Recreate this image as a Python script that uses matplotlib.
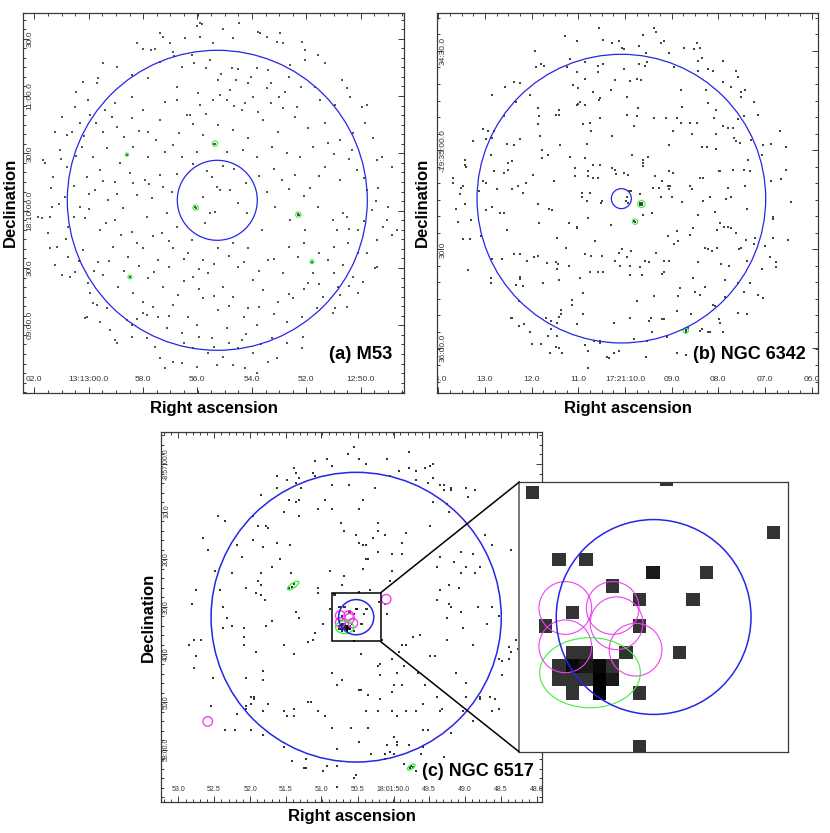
import numpy as np
import matplotlib
matplotlib.use("Agg")
import matplotlib.pyplot as plt
from matplotlib.colors import ListedColormap
from matplotlib.patches import Circle, Ellipse, Rectangle, ConnectionPatch

plt.rcParams['font.family'] = ['Liberation Sans', 'DejaVu Sans']

# all positions below are image coordinates of the three frames

# M53 events
m53_events = [(600,68),(590,78),(718,68),(670,88),(775,95),(780,100),(480,100),(510,130),(465,148),(430,148),(410,128),(555,115),(600,110),(640,130),(830,125),(848,130),(800,110),(700,115),(520,155),(575,165),(480,185),(545,200),(630,180),(695,205),(715,208),(770,205),(915,150),(955,165),(915,180),(975,190),(870,195),(805,210),(350,200),(310,190),(395,225),(295,235),(250,245),(228,275),(290,250),(655,240),(445,235),(530,260),(595,280),(660,285),(690,270),(745,250),(800,265),(855,275),(945,260),(1025,240),(1050,290),(1085,320),(1100,315),(960,300),(890,320),(850,325),(775,335),(735,310),(725,330),(680,300),(640,300),(600,315),(560,345),(530,300),(495,305),(430,330),(395,290),(345,310),(315,330),(265,300),(225,320),(185,350),(215,395),(165,395),(135,488),(125,653),(145,700),(165,795),(185,825),(210,830),(255,955),(290,915),(345,1020),(350,1030),(430,940),(440,945),(380,960),(395,975),(480,1075),(495,1105),(520,1085),(545,1090),(590,1100),(650,1095),(700,1095),(735,1105),(770,1120),(805,1085),(830,1075),(860,1030),(905,1045),(910,1010),(1000,940),(1040,920),(1075,880),(1130,800),(1175,705),(1190,690),(1100,760),(1095,370),(1060,400),(1120,415),(1145,470),(1135,565),(1165,620),(1160,660),(1040,650),(1030,640),(1010,690),
(240,370),(270,345),(310,395),(350,380),(395,355),(445,395),(480,360),(520,435),(570,345),(610,405),(655,375),(700,390),(745,415),(790,360),(835,395),(885,350),(925,385),(975,370),(1020,420),(1055,450),(985,430),(940,440),(900,470),(860,460),(815,440),(770,470),(730,450),(680,455),(590,455),(545,470),(495,455),(445,470),(400,440),(360,490),(320,445),(280,470),(245,440),(200,500),(160,530),(260,530),(300,510),(345,545),(390,520),(435,540),(480,525),(515,575),(500,640),(455,595),(410,585),(370,625),(325,600),(285,570),(240,620),(195,590),(150,650),(205,680),(255,655),(300,690),(345,660),(395,695),(440,650),(485,700),(530,680),(575,720),(615,670),(630,640),(645,635),(650,560),(660,570),(635,530),(690,570),(610,590),(715,610),(740,640),(800,575),(845,540),(885,525),(930,565),(975,500),(1020,540),(1070,510),(1100,570),(1115,630),(1075,690),(1045,730),(1000,660),(955,620),(915,690),(870,660),(825,620),(785,690),(745,745),(700,730),(655,745),(610,780),(565,760),(520,745),(475,780),(430,745),(385,770),(340,740),(295,785),(250,750),(205,770),(170,740),(225,815),(265,850),(310,825),(355,860),(400,880),(445,835),(490,860),(535,885),(580,830),(625,820),(670,860),(715,800),(760,840),(805,780),(850,820),(895,770),(940,820),(985,780),(1030,795),(1075,760),(1060,830),(1015,860),(970,890),(925,850),(880,895),(835,905),(790,870),(745,925),(700,890),(655,930),(610,895),(565,950),(520,915),(475,950),(430,905),(320,925),(280,910),(270,880),(500,985),(545,1000),(590,975),(635,1015),(680,985),(725,1020),(770,975),(815,1015),(860,965),(905,950),(950,925),(1020,885),(580,1045),(625,1060),(670,1070),(715,1045),(760,1060),(440,1015),(465,1040),(395,1010),(1130,720),(1150,680),(1130,480),(1175,500),(180,450),(115,650),(840,100),(905,125),(1040,265),(1005,315),(155,620),(150,745),(130,480),(200,405),(260,950),(300,965),(330,990),(1125,805),(1090,845),(1005,925),
(645,431),(643,433),(381,464),(587,623),(586,621),(895,644),(893,642),(898,646),(936,785),(390,831),
(605,72),(488,112),(452,150),(523,168),(582,188),(618,203),(662,222),(708,240),(752,232),(812,248),(868,230),(902,262),(838,292),(812,310),(758,292),(702,318),(618,342),(578,372),(536,398),(468,420),(418,392),(372,412),(335,352),(288,368),(252,408),(228,468),(182,478),(152,565),(178,612),(222,650),(268,628),(318,668),(362,705),(412,728),(458,708),(508,722),(552,778),(598,808),(642,792),(688,768),(732,785),(778,812),(822,778),(868,742),(912,728),(958,758),(1002,742),(1048,688),(1092,662),(1128,602),(1092,535),(1048,478),(1002,462),(958,528),(912,588),(868,568),(822,508),(778,528),(738,548),(702,508),(668,498),(622,512),(578,492),(532,522),(488,562),(448,552),(398,548),(352,582),(308,542),(268,582),(222,558),(198,718),(238,782),(282,812),(328,782),(372,812),(418,798),(462,815),(508,802),(552,842),(598,868),(642,888),(688,918),(732,952),(778,922),(822,942),(868,882),(912,868),(958,852),(1002,818),(1048,858),(412,958),(458,922),(508,948),(552,1028),(598,1012),(642,1042),(688,1028),(738,1002),(782,1032)]
m53_sources = [(645,431,8),(381,464,5),(587,623,8),(895,644,8),(936,785,6),(390,831,6)]

# NGC 6342 events
n6342_events = [(553,85),(718,85),(724,97),(685,104),(451,109),(563,119),(486,124),(612,124),(592,128),(747,124),(739,128),(621,143),(627,148),(671,138),(806,143),(845,128),(856,143),(838,148),(359,153),(763,158),(694,158),(465,178),(378,192),(387,197),(363,202),(455,202),(509,187),(548,197),(563,192),(671,192),(695,187),(690,197),(860,173),(850,182),(924,182),(777,202),(627,207),(850,212),(880,207),(894,212),(963,212),(486,215),(548,215),(968,232),(665,237),(645,242),(509,237),(601,240),(679,240),(924,246),(296,246),(315,250),(474,255),(490,265),(270,260),(948,260),(797,270),(872,270),(587,270),(534,275),(977,275),(990,270),(977,290),(232,285),(345,285),(635,290),(555,295),(553,300),(304,305),(495,305),(490,312),(486,315),(510,315),(1016,305),(880,310),(800,320),(368,324),(432,329),(670,324),(904,329),(422,344),(432,344),(266,349),(373,349),(635,344),(666,349),(718,354),(752,354),(786,354),(555,354),(896,354),(968,358),(987,349),(1030,344),(368,373),(505,373),(525,369),(656,378),(797,369),(826,369),(847,369),(925,378),(955,383),(938,383),(203,388),(218,393),(236,393),(528,393),(774,393),(1094,393),(830,402),(904,403),(374,408),(592,408),(212,418),(232,413),(314,418),(174,424),(958,413),(963,424),(975,428),(1007,420),(276,432),(296,436),(436,436),(515,431),(763,436),(860,441),(875,441),(904,446),(1045,436),(1069,431),(1113,441),(382,451),(398,465),(227,465),(466,470),(510,475),(650,465),(700,470),(1040,465),(291,483),(150,480),(280,490),(150,495),(152,500),(685,480),(685,488),(685,497),(535,494),(555,494),(1000,480),(382,475),(592,505),(600,510),(603,523),(237,514),(268,519),(278,510),(480,505),(520,514),(627,519),(638,525),(763,514),(773,519),(912,514),(916,514),(955,509),(987,509),(1006,514),(1113,509),(354,524),(480,529),(520,529),(535,534),(548,534),(721,529),(856,534),(865,534),(115,534),(1098,538),(417,544),(740,544),(203,544),(213,548),(115,548),(332,548),(310,558),(145,558),(139,563),(760,558),(765,558),(1069,543),(990,558),(714,563),(733,563),(763,568),(825,558),(830,568),(940,563),(246,568),(292,568),(193,573),(325,578),(500,578),(525,578),(648,573),(643,573),(135,582),(675,582),(885,592),(500,592),(738,592),(772,592),(515,602),(560,602),(637,592),(632,602),(640,608),(1128,607),(800,606),(865,602),(932,597),(948,592),(150,612),(368,612),(558,610),(122,626),(232,620),(213,631),(403,626),(412,631),(996,626),(255,640),(266,640),(900,635),(711,640),(848,645),(685,645),(1074,652),(1074,656),(168,660),(130,665),(520,655),(373,670),(462,670),(588,675),(915,670),(486,680),(486,685),(835,685),(276,690),(926,680),(938,680),(948,685),(905,690),(786,694),(963,699),(788,722),(826,704),(758,708),(427,714),(145,718),(164,718),(199,709),(540,724),(992,719),(1020,714),(1075,714),(1118,719),(778,733),(1016,733),(452,743),(870,743),(878,748),(890,753),(905,743),(972,748),(978,743),(1050,738),(647,753),(620,748),(613,758),(296,763),(315,763),(510,762),(529,767),(561,767),(723,758),(368,768),(358,772),(335,782),(262,777),(232,777),(635,772),(600,782),(615,797),(645,797),(690,782),(703,787),(674,802),(747,782),(763,782),(396,790),(423,787),(430,792),(425,806),(462,797),(850,787),(917,792),(943,797),(996,782),(1040,806),(1065,772),(1084,787),(1084,802),(158,811),(495,835),(525,817),(548,817),(564,817),(645,826),(680,826),(748,817),(740,822),(835,835),(929,841),(315,831),(316,836),(228,835),(228,850),(304,855),(325,858),(383,850),(432,841),(970,850),(1005,850),(795,865),(716,888),(504,880),(790,888),(840,875),(855,885),(870,860),(930,890),(987,875),(1030,885),(1045,895),(312,904),(471,899),(665,904),(471,914),(895,914),(900,919),(787,934),(437,929),(437,943),(433,950),(827,943),(970,938),(996,943),(505,943),(287,953),(291,953),(392,953),(645,953),(708,953),(740,958),(746,958),(912,958),(914,968),(408,963),(427,968),(596,968),(702,963),(326,973),(311,977),(486,973),(820,983),(860,988),(856,993),(880,997),(885,997),(924,997),(345,997),(408,987),(398,1007),(427,1007),(710,997),(757,1012),(554,1022),(536,1022),(554,1030),(656,1017),(695,1022),(350,1031),(377,1031),(509,1036),(423,1040),(432,1045),(520,1052),(406,1060),(440,1060),(596,1060),(612,1052),(787,1060),(812,1065),(575,1070),(582,1074),(694,1070),(520,1104),
(679,612),(676,610),(682,610),(676,614),(682,614),(679,608),(660,665),(657,662),(812,990),(812,995)]
n6342_sources = [(679,612,11),(660,665,8),(812,992,8)]

# NGC 6517 events outside the zoomed box
n6517_events = [(640,67),(625,87),(805,80),(655,101),(740,101),(562,101),(526,109),(676,116),(576,123),(877,116),(870,123),(855,130),(462,130),(805,130),(827,137),(776,137),(469,145),(519,145),(411,152),(526,152),(748,152),(476,159),(877,159),(440,166),(827,166),(469,173),(862,173),(898,181),(912,181),(576,181),(626,181),(411,188),(483,188),(705,188),(933,188),(933,195),(912,195),(977,188),(1005,195),(362,210),(984,217),(447,224),(476,224),(554,224),(669,224),(469,231),(877,231),(919,238),(533,252),(576,252),(655,252),(927,260),(433,260),(476,274),(234,274),(340,274),(255,288),(604,295),(712,295),(355,302),(377,302),(383,310),(870,302),(612,317),(712,317),(798,324),(648,331),(733,331),(1034,331),(190,338),(340,346),(697,338),(411,353),(655,353),(784,353),(669,360),(676,360),(449,360),(1055,360),(290,360),(205,374),(369,367),(712,381),(1112,374),(962,381),(755,388),(784,388),(998,388),(305,396),(898,396),(419,403),(676,403),(683,403),(941,410),(891,425),(669,432),(977,425),(1020,425),(397,425),(226,438),(569,438),(755,438),(275,445),(362,445),(454,445),(962,445),(1005,445),(612,453),(355,467),(748,467),(605,481),(362,481),(927,481),(169,496),(240,496),(319,488),(533,488),(955,488),(898,496),(690,496),(533,503),(348,503),(362,510),(891,524),(376,524),(734,538),(927,538),(155,538),(248,545),(933,545),(1012,545),(1055,545),(569,552),(962,560),(741,567),(469,560),(919,580),(262,580),(476,580),(1077,574),(397,588),(1041,596),(276,602),(377,602),(548,596),(248,610),(312,610),(969,610),(526,624),(840,631),(312,638),(819,638),(726,645),(919,645),(1127,645),(505,652),(519,645),(163,645),(184,645),(312,660),(148,660),(433,660),(784,660),(798,660),(998,660),(1105,667),(1133,674),(1112,681),(348,681),(777,681),(169,695),(462,688),(662,688),(869,695),(884,695),(755,702),(1077,702),(1084,709),(1105,702),(719,717),(712,724),(790,724),(163,731),(834,745),(369,739),(576,745),(769,745),(948,745),(719,752),(1084,752),(219,760),(319,760),(605,767),(369,767),(591,781),(762,781),(784,781),(855,781),(977,774),(655,795),(662,795),(755,802),(684,810),(891,817),(333,817),(341,817),(341,824),(719,824),(977,817),(1020,817),(1020,824),(1048,817),(1063,824),(333,838),(383,838),(505,831),(512,831),(848,838),(212,845),(319,845),(319,852),(462,852),(433,860),(533,860),(676,860),(712,860),(755,860),(798,860),(827,860),(905,853),(898,860),(969,860),(1055,860),(1077,853),(290,867),(369,860),(440,874),(462,874),(555,874),(769,874),(998,888),(576,910),(633,910),(684,910),(255,917),(284,917),(333,917),(848,917),(862,917),(933,924),(369,931),(762,938),(655,953),(769,953),(769,960),(741,960),(805,960),(848,967),(433,967),(591,974),(748,981),(733,988),(691,988),(762,988),(841,988),(733,1002),(912,996),(498,1003),(455,1010),(791,1017),(562,1024),(591,1024),(491,1031),(498,1031),(548,1038),(826,1038),(648,1052),(641,1060),(591,1088),
(462,478),(455,485),(448,490),(813,1024),(810,1031),(817,1027)]

# counts per image pixel inside the zoomed box
box_cols = [1,11,19,3,5,10,14,7,9,13,4,2,9,4,5,8,12,3,4,5,6,7,3,4,5,6,7,4,6,9,9]
box_rows = [0,-1,3,5,5,6,6,7,8,8,9,10,10,12,12,12,12,13,13,13,13,13,14,14,14,14,14,15,15,15,19]
box_counts = [1,1,1,1,1,2,1,1,1,1,1,1,1,1,1,1,1,1,3,2,3,1,1,1,1,4,2,1,4,1,1]

# wavdetect style regions in NGC 6517
magenta_regions = [(600.1,572.1),(625.8,572.1),(627.9,580.4),(638.2,594.7),(600.1,592.9),(738,523),(203,890)]
green_regions = [(613.5,607.2,54.6,38,0),(459,482,40,14,-35),(813,1027,26,12,-35)]

a_xticks = [103,266,428,591,755,918,1082]
a_xlabels = ['02.0','13:13:00.0','58.0','56.0','54.0','52.0','12:50.0']
a_yticks = [116,288,460,632,804,976]
a_ylabels = ['30.0','11:00.0','30.0','18:10:00.0','30.0','09:00.0']
b_xticks = [70,210,350,490,630,770,910,1050,1190]
b_xlabels = ['14.0','13.0','12.0','11.0','17:21:10.0','09.0','08.0','07.0','06.0']
b_yticks = [153,451,748,1045]
b_ylabels = ['34:30.0','-19:35:00.0','30.0','36:00.0']
c_xticks = [115,222,330,437,544,652,760,867,975,1082,1189]
c_xlabels = ['53.0','52.5','52.0','51.5','51.0','50.5','18:01:50.0','49.5','49.0','48.5','48.0']
c_yticks = [117,260,403,546,689,832,975]
c_ylabels = ['-8:57:00.0','10.0','20.0','30.0','40.0','50.0','58:00.0']

W, H = 830, 833
BLUE = '#2626e6'
GREEN = '#3cf03c'
MAGENTA = '#f040f0'
FRAME = '#3a3a3a'

fig = plt.figure(figsize=(W / 100, H / 100), dpi=100)


def make_axes(x0, y0, x1, y1, xlim, ylim):
    ax = fig.add_axes([x0 / W, 1 - y1 / H, (x1 - x0) / W, (y1 - y0) / H])
    ax.set_xlim(*xlim)
    ax.set_ylim(*ylim)
    for spine in ax.spines.values():
        spine.set_color(FRAME)
        spine.set_linewidth(0.9)
    return ax


def set_ticks(ax, xticks, xlabels, yticks, ylabels, xminor, yminor, size, xpad, ypad):
    xlim, ylim = ax.get_xlim(), ax.get_ylim()
    ax.set_xticks(xticks, xlabels)
    ax.set_yticks(yticks, ylabels, rotation=90, va='center')
    # minor ticks run across the whole frame, set_xticks can push the limits out so put them back
    x0, y0 = xticks[0], yticks[0]
    nx = np.arange(-20, 60)
    ny = np.arange(-20, 60)
    xm = x0 + xminor * nx
    ym = y0 + yminor * ny
    ax.set_xticks(xm[(xm > min(xlim)) & (xm < max(xlim))], minor=True)
    ax.set_yticks(ym[(ym > min(ylim)) & (ym < max(ylim))], minor=True)
    ax.set_xlim(xlim)
    ax.set_ylim(ylim)
    ax.tick_params(which='both', direction='in', top=True, right=True, color=FRAME, width=0.7)
    ax.tick_params(which='major', length=4.5)
    ax.tick_params(which='minor', length=2)
    ax.tick_params(axis='x', labelsize=size, pad=xpad, labelcolor='#333333')
    ax.tick_params(axis='y', labelsize=size, pad=ypad, labelcolor='#333333')


def draw_events(ax, events, size, color):
    pts = np.array(events)
    ax.scatter(pts[:, 0], pts[:, 1], s=size, c=color, marker='s', linewidths=0, zorder=2)


def outer_labels(xc, xy, yc, yy):
    fig.text(xc / W, 1 - xy / H, 'Right ascension', fontsize=12, fontweight='bold', ha='center', va='center')
    fig.text(yc / W, 1 - yy / H, 'Declination', fontsize=12, fontweight='bold', ha='center', va='center', rotation=90)


# (a) M53
ax_a = make_axes(23.3, 13.3, 404.3, 393.3, (70, 1213), (1180, 40))
set_ticks(ax_a, a_xticks, a_xlabels, a_yticks, a_ylabels, 40.8, 28.67, 6, -12.5, -7.5)
draw_events(ax_a, m53_events, 0.8, '#555555')
for x, y, r in m53_sources:
    ax_a.add_patch(Circle((x, y), r, fill=False, ec=GREEN, lw=0.8, zorder=3))
ax_a.add_patch(Circle((652, 601), 450, fill=False, ec=BLUE, lw=0.9, zorder=3))
ax_a.add_patch(Circle((652, 601), 120, fill=False, ec=BLUE, lw=0.9, zorder=3))
ax_a.text(1178, 1065, '(a) M53', fontsize=13.2, fontweight='bold', ha='right', va='center')
outer_labels(214, 408, 10, 202)

# (b) NGC 6342
ax_b = make_axes(436.7, 13.3, 817.7, 393.3, (65, 1208), (1180, 40))
set_ticks(ax_b, b_xticks, b_xlabels, b_yticks, b_ylabels, 35, 49.6, 6, -12.5, -7.5)
draw_events(ax_b, n6342_events, 1.4, '#444444')
for x, y, r in n6342_sources:
    ax_b.add_patch(Circle((x, y), r, fill=False, ec=GREEN, lw=0.8, zorder=3))
ax_b.add_patch(Circle((619, 596), 433, fill=False, ec=BLUE, lw=0.9, zorder=3))
ax_b.add_patch(Circle((619, 596), 30, fill=False, ec=BLUE, lw=0.9, zorder=3))
ax_b.text(1173, 1063, '(b) NGC 6342', fontsize=13, fontweight='bold', ha='right', va='center')
outer_labels(628, 408, 422, 202)
# the end labels are cut by the frame in the original
fig.canvas.draw()
for lbl in ax_b.get_xticklabels():
    lbl.set_clip_box(ax_b.bbox)
    lbl.set_clip_on(True)

# (c) NGC 6517 with the zoomed box
ax_c = make_axes(160.7, 431.7, 542.3, 802, (62, 1206), (1132, 20))
set_ticks(ax_c, c_xticks, c_xlabels, c_yticks, c_ylabels, 21.48, 28.6, 5, -11.5, -6.7)
draw_events(ax_c, n6517_events, 3.0, '#333333')

cell = 7.228
grid_x0, grid_y0 = 571.4, 498.8
counts = np.zeros((21, 20))
for col, row, n in zip(box_cols, box_rows, box_counts):
    counts[row + 1, col] = n
counts = np.ma.masked_equal(counts, 0)
grid_extent = [grid_x0, grid_x0 + 20 * cell, grid_y0 + 21 * cell, grid_y0]
count_cmap = ListedColormap(['#333333', '#191919', '#0a0a0a', '#000000'])

ax_z = make_axes(519, 482.3, 788.3, 751.7, (575, 721), (650, 504))
ax_z.set_xticks([])
ax_z.set_yticks([])
ax_z.set_zorder(5)
ax_z.spines['left'].set_linewidth(1.4)
ax_z.spines['left'].set_color('#777777')

for ax in (ax_c, ax_z):
    keep = ax.get_xlim(), ax.get_ylim()
    ax.imshow(counts, extent=grid_extent, cmap=count_cmap, vmin=0.5, vmax=4.5,
              interpolation='nearest', aspect='auto', zorder=2)
    ax.set_xlim(keep[0])
    ax.set_ylim(keep[1])
    lw = 1.0 if ax is ax_c else 0.8
    for x, y in magenta_regions:
        ax.add_patch(Circle((x, y), 14.3, fill=False, ec=MAGENTA, lw=lw, zorder=3))
    for x, y, w, h, ang in green_regions:
        ax.add_patch(Ellipse((x, y), w, h, angle=ang, fill=False, ec=GREEN, lw=lw, zorder=3))
    ax.add_patch(Circle((648, 577), 52.8, fill=False, ec=BLUE, lw=1.1, zorder=4))

ax_c.add_patch(Circle((648, 577), 435, fill=False, ec=BLUE, lw=1.1, zorder=3))
ax_c.add_patch(Rectangle((575, 504), 146, 146, fill=False, ec='black', lw=1.1, zorder=4))
for yb in (504, 650):
    fig.add_artist(ConnectionPatch((721, yb), (575, yb), coordsA=ax_c.transData, coordsB=ax_z.transData,
                                   color='black', lw=1.1, zorder=6))
ax_c.text(1180, 1040, '(c) NGC 6517', fontsize=13, fontweight='bold', ha='right', va='center', zorder=7)
outer_labels(352, 817, 148, 617)

fig.savefig('out.png', dpi=100)
